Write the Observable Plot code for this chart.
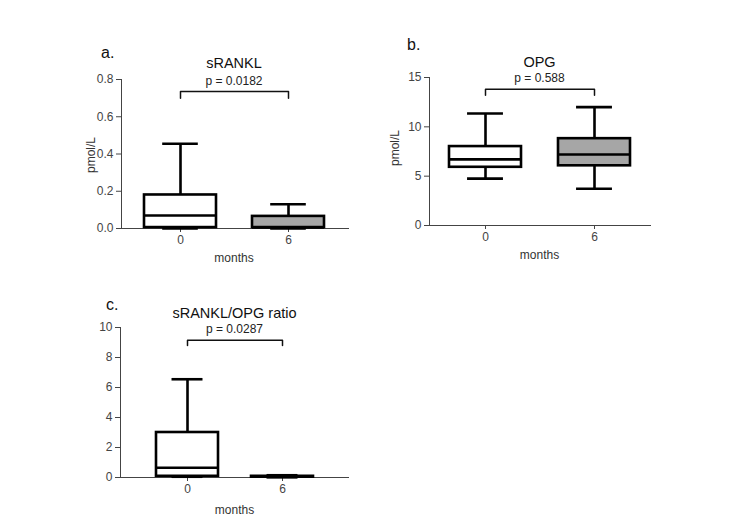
<!DOCTYPE html>
<html>
<head>
<meta charset="utf-8">
<script src="https://cdn.jsdelivr.net/npm/d3@7"></script>
<script src="https://cdn.jsdelivr.net/npm/@observablehq/plot@0.6"></script>
<style>
  body { margin: 0; background: #fff; font-family: "Liberation Sans", Arial, sans-serif; }
  #root { position: relative; width: 750px; height: 530px; overflow: hidden; }
  .panel { position: absolute; }
  .txt { position: absolute; white-space: nowrap; transform: translate(-50%, -50%); }
  .lbl { position: absolute; color: #111; font-size: 16px; transform: translate(0, -50%); }
  .ylab { position: absolute; white-space: nowrap; color: #333; font-size: 12px; transform: translate(-50%, -50%) rotate(-90deg); }
</style>
</head>
<body>
<div id="root"></div>
<script>
// ---- data ----
const months = ["0", "6"];
const fills = ["#ffffff", "#a6a6a6"];

const rankl = {
  title: "sRANKL", letter: "a.", pText: "p = 0.0182",
  min: [0.0, 0.0], q1: [0.005, 0.005], median: [0.07, 0.005], q3: [0.18, 0.065], max: [0.455, 0.13],
  ticks: [0, 0.2, 0.4, 0.6, 0.8], domain: [0, 0.8], bracket: [0.700, 0.735], ylabel: "pmol/L"
};
const opg = {
  title: "OPG", letter: "b.", pText: "p = 0.588",
  min: [4.75, 3.72], q1: [5.9, 6.05], median: [6.7, 7.2], q3: [8.0, 8.8], max: [11.35, 12.0],
  ticks: [0, 5, 10, 15], domain: [0, 15], bracket: [13.2, 13.8], ylabel: "pmol/L"
};
const ratio = {
  title: "sRANKL/OPG ratio", letter: "c.", pText: "p = 0.0287",
  min: [0.05, 0.01], q1: [0.08, 0.02], median: [0.65, 0.05], q3: [3.0, 0.08], max: [6.55, 0.15],
  ticks: [0, 2, 4, 6, 8, 10], domain: [0, 10], bracket: [8.8, 9.15], ylabel: null
};

// ---- layout ----
const layouts = [
  {d: rankl, left: 60, top: 40, width: 300, height: 235, ml: 61, mt: 39, mr: 12, mb: 47, pi: 0.33, po: 0.21, fmt: ".1f",
   letterPos: [101, 53], titleY: 63, pY: 81, yLabPos: [91, 155], monthsY: 258},
  {d: opg, left: 370, top: 40, width: 300, height: 235, ml: 59, mt: 37, mr: 20, mb: 50, pi: 0.34, po: 0.18, fmt: "d",
   letterPos: [407, 45], titleY: 62, pY: 78, yLabPos: [395, 148], monthsY: 255},
  {d: ratio, left: 60, top: 290, width: 300, height: 235, ml: 60, mt: 37, mr: 12, mb: 48, pi: 0.35, po: 0.37, fmt: "d",
   letterPos: [106, 305], titleY: 313, pY: 329, yLabPos: null, monthsY: 510}
];

const root = document.getElementById("root");

function addText(cls, text, pos, style) {
  const el = document.createElement("div");
  el.className = cls;
  el.textContent = text;
  el.style.left = pos[0] + "px";
  el.style.top = pos[1] + "px";
  Object.assign(el.style, style || {});
  root.appendChild(el);
}

for (const L of layouts) {
  const d = L.d;
  const rows = months.map((m, i) => ({
    month: m, fill: fills[i],
    min: d.min[i], q1: d.q1[i], median: d.median[i], q3: d.q3[i], max: d.max[i]
  }));
  const bracket = [
    {month: months[0], y: d.bracket[0]},
    {month: months[0], y: d.bracket[1]},
    {month: months[1], y: d.bracket[1]},
    {month: months[1], y: d.bracket[0]}
  ];
  // band geometry (for cap width = half of box width)
  const range = L.width - L.ml - L.mr;
  const step = range / (months.length - L.pi + 2 * L.po);
  const bw = step * (1 - L.pi);
  const capInset = bw / 4;

  const plot = Plot.plot({
    width: L.width, height: L.height,
    marginLeft: L.ml, marginTop: L.mt, marginRight: L.mr, marginBottom: L.mb,
    style: {fontFamily: "Liberation Sans, Arial, sans-serif", fontSize: "12px", color: "#444", background: "transparent", overflow: "visible"},
    x: {type: "band", domain: months, paddingInner: L.pi, paddingOuter: L.po, align: 0.5,
        line: true, tickSize: 4, tickPadding: 3, label: null},
    y: {domain: d.domain, ticks: d.ticks, tickFormat: d3.format(L.fmt), line: true, tickSize: 5, tickPadding: 3,
        label: null},
    marks: [
      // whiskers
      Plot.ruleX(rows, {x: "month", y1: "min", y2: "max", stroke: "#000", strokeWidth: 2.6}),
      // box
      Plot.barY(rows, {x: "month", y1: "q1", y2: "q3", fill: "fill", stroke: "#000", strokeWidth: 2.6}),
      // median
      Plot.tickY(rows, {x: "month", y: "median", stroke: "#000", strokeWidth: 2.6}),
      // caps
      Plot.tickY(rows.filter(r => r.max > r.q3), {x: "month", y: "max", stroke: "#000", strokeWidth: 2.6, insetLeft: capInset, insetRight: capInset}),
      Plot.tickY(rows.filter(r => r.min < r.q1), {x: "month", y: "min", stroke: "#000", strokeWidth: 2.6, insetLeft: capInset, insetRight: capInset}),
      // significance bracket
      Plot.line(bracket, {x: "month", y: "y", stroke: "#111", strokeWidth: 1.5})
    ]
  });
  const wrap = document.createElement("div");
  wrap.className = "panel";
  wrap.style.left = L.left + "px";
  wrap.style.top = L.top + "px";
  wrap.appendChild(plot);
  root.appendChild(wrap);

  const x = plot.scale("x");
  const c0 = L.left + x.apply(months[0]) + x.bandwidth / 2;
  const c1 = L.left + x.apply(months[1]) + x.bandwidth / 2;
  const cx = (c0 + c1) / 2;

  addText("lbl", d.letter, L.letterPos);
  addText("txt", d.title, [cx, L.titleY], {fontSize: "14.5px", color: "#111"});
  addText("txt", d.pText, [cx, L.pY], {fontSize: "12px", color: "#222"});
  addText("txt", "months", [cx, L.monthsY], {fontSize: "12px", color: "#333"});
  if (d.ylabel) {
    const el = document.createElement("div");
    el.className = "ylab";
    el.textContent = d.ylabel;
    el.style.left = L.yLabPos[0] + "px";
    el.style.top = L.yLabPos[1] + "px";
    root.appendChild(el);
  }
}
</script>
</body>
</html>
